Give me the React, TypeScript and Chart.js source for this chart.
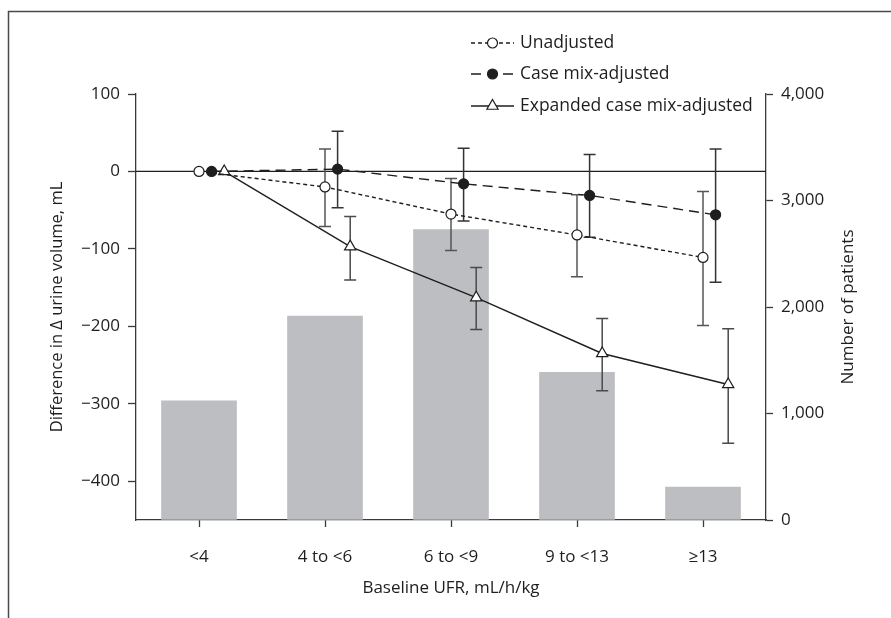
import React, { useEffect, useRef } from 'react';
import { Chart, registerables } from 'chart.js';

Chart.register(...registerables);

// ---------- data ----------
const categories = ['<4', '4 to <6', '6 to <9', '9 to <13', '≥13'];
const patients = [1120, 1914, 2726, 1386, 310];

const unadjusted = [0, -20, -55, -82, -111];
const unadjustedLow = [null, -71, -102, -136, -199];
const unadjustedHigh = [null, 29, -9, -30, -26];

const caseMix = [0, 3, -16, -31, -56];
const caseMixLow = [null, -47, -64, -85, -143];
const caseMixHigh = [null, 52, 30, 22, 29];

const expanded = [0, -97, -163, -235, -275];
const expandedLow = [null, -140, -204, -283, -351];
const expandedHigh = [null, -58, -124, -190, -203];

const leftTicks = [100, 0, -100, -200, -300, -400];
const rightTicks = [0, 1000, 2000, 3000, 4000];

const seriesNames = ['Unadjusted', 'Case mix-adjusted', 'Expanded case mix-adjusted'];

// ---------- styling ----------
const FONT = "'Open Sans', sans-serif";
const INK = '#1e1e1e';
const AXIS = '#3a3a3a';
const BAR = '#bdbec2';
const OFFSETS = [0, 0.1, 0.2];
const DASHES: number[][] = [[4, 3], [10, 6], []];

const series = [
  { name: seriesNames[0], values: unadjusted, low: unadjustedLow, high: unadjustedHigh, style: 'circle', fill: '#ffffff', radius: 5, errColor: '#555' },
  { name: seriesNames[1], values: caseMix, low: caseMixLow, high: caseMixHigh, style: 'circle', fill: INK, radius: 5, errColor: '#333' },
  { name: seriesNames[2], values: expanded, low: expandedLow, high: expandedHigh, style: 'triangle', fill: '#ffffff', radius: 6.5, errColor: '#4a4a4a' },
];

const fmtMinus = (v: number) => (v < 0 ? '\u2212' + Math.abs(v) : String(v));

function drawMarker(ctx: CanvasRenderingContext2D, style: string, x: number, y: number, r: number, fill: string) {
  ctx.save();
  ctx.setLineDash([]);
  ctx.fillStyle = fill;
  ctx.strokeStyle = INK;
  ctx.lineWidth = 1.2;
  ctx.beginPath();
  if (style === 'circle') {
    ctx.arc(x, y, r, 0, Math.PI * 2);
  } else {
    let rad = 0;
    ctx.moveTo(x + Math.sin(rad) * r, y - Math.cos(rad) * r);
    rad += (2 * Math.PI) / 3;
    ctx.lineTo(x + Math.sin(rad) * r, y - Math.cos(rad) * r);
    rad += (2 * Math.PI) / 3;
    ctx.lineTo(x + Math.sin(rad) * r, y - Math.cos(rad) * r);
    ctx.closePath();
  }
  ctx.fill();
  ctx.stroke();
  ctx.restore();
}

const errorBarPlugin = {
  id: 'errorBars',
  afterDatasetDraw(chart: any, args: any) {
    if (args.meta.type !== 'bar') return;
    const ctx: CanvasRenderingContext2D = chart.ctx;
    const y = chart.scales.y;
    const xl = chart.scales.xl;
    const area = chart.chartArea;
    ctx.save();
    // zero reference line
    ctx.strokeStyle = INK;
    ctx.lineWidth = 1.3;
    const y0 = y.getPixelForValue(0);
    ctx.beginPath();
    ctx.moveTo(area.left, y0);
    ctx.lineTo(area.right, y0);
    ctx.stroke();
    // error bars
    series.forEach((s, si) => {
      ctx.strokeStyle = s.errColor;
      ctx.lineWidth = 1.5;
      s.low.forEach((lo, i) => {
        const hi = s.high[i];
        if (lo == null || hi == null) return;
        const px = xl.getPixelForValue(i + 1 + OFFSETS[si]);
        const pl = y.getPixelForValue(lo);
        const ph = y.getPixelForValue(hi);
        ctx.beginPath();
        ctx.moveTo(px, ph);
        ctx.lineTo(px, pl);
        ctx.moveTo(px - 6, ph);
        ctx.lineTo(px + 6, ph);
        ctx.moveTo(px - 6, pl);
        ctx.lineTo(px + 6, pl);
        ctx.stroke();
      });
    });
    ctx.restore();
  },
};

const decorPlugin = {
  id: 'decor',
  afterDraw(chart: any) {
    const ctx: CanvasRenderingContext2D = chart.ctx;
    const area = chart.chartArea;
    const yr = chart.scales.yr;
    ctx.save();
    // frame
    ctx.strokeStyle = '#4a4a4a';
    ctx.lineWidth = 1.5;
    ctx.beginPath();
    ctx.moveTo(8.5, 618);
    ctx.lineTo(8.5, 11.5);
    ctx.lineTo(891, 11.5);
    ctx.stroke();

    // right axis title (reads bottom to top)
    ctx.fillStyle = INK;
    ctx.font = `17px ${FONT}`;
    ctx.textAlign = 'center';
    ctx.textBaseline = 'middle';
    ctx.translate(yr.left + 82, (area.top + area.bottom) / 2);
    ctx.rotate(-Math.PI / 2);
    ctx.fillText('Number of patients', 0, 0);
    ctx.restore();

    // legend
    ctx.save();
    const lx0 = 471;
    const lx1 = 514;
    const rows = [43, 74, 106];
    series.forEach((s, si) => {
      const yy = rows[si];
      ctx.strokeStyle = INK;
      ctx.lineWidth = 1.4;
      ctx.setLineDash(DASHES[si]);
      ctx.beginPath();
      ctx.moveTo(lx0, yy);
      ctx.lineTo(lx1, yy);
      ctx.stroke();
      ctx.setLineDash([]);
      drawMarker(ctx, s.style, (lx0 + lx1) / 2, yy, s.radius, s.fill);
      ctx.fillStyle = INK;
      ctx.font = `17.5px ${FONT}`;
      ctx.textAlign = 'left';
      ctx.textBaseline = 'middle';
      ctx.fillText(s.name, 520, yy);
    });
    ctx.restore();
  },
};

export default function App() {
  const ref = useRef<HTMLCanvasElement | null>(null);

  useEffect(() => {
    if (!ref.current) return;
    Chart.defaults.font.family = FONT;
    Chart.defaults.font.size = 17;
    Chart.defaults.color = INK;

    const lineDatasets = series.map((s, si) => ({
      type: 'line' as const,
      label: s.name,
      data: s.values.map((v, i) => ({ x: i + 1 + OFFSETS[si], y: v })),
      xAxisID: 'xl',
      yAxisID: 'y',
      borderColor: INK,
      borderWidth: 1.4,
      borderDash: DASHES[si],
      pointStyle: s.style,
      pointRadius: s.radius,
      pointBackgroundColor: s.fill,
      pointBorderColor: INK,
      pointBorderWidth: 1.2,
      fill: false,
      tension: 0,
      order: 1,
    }));

    const chart = new Chart(ref.current, {
      type: 'bar',
      data: {
        labels: categories,
        datasets: [
          {
            type: 'bar',
            label: 'Number of patients',
            data: patients,
            xAxisID: 'x',
            yAxisID: 'yr',
            backgroundColor: BAR,
            borderWidth: 0,
            grouped: false,
            barThickness: 75,
            order: 10,
          } as any,
          ...(lineDatasets as any[]),
        ],
      },
      options: {
        responsive: false,
        animation: false,
        devicePixelRatio: 1,
        layout: { padding: { left: 0, right: 0, top: 94, bottom: 0 } },
        plugins: { legend: { display: false }, tooltip: { enabled: false } },
        scales: {
          x: {
            type: 'category',
            position: 'bottom',
            offset: true,
            grid: { drawOnChartArea: false, tickLength: 7, color: AXIS, tickWidth: 1.3, offset: false },
            border: { color: AXIS, width: 1.3 },
            ticks: { padding: 20, color: INK, maxRotation: 0 },
            title: { display: true, text: 'Baseline UFR, mL/h/kg', color: INK, font: { size: 17 }, padding: { top: 0, bottom: 20 } },
            afterFit: (s: any) => { s.height = 98; },
          },
          xl: {
            type: 'linear',
            display: false,
            offset: false,
            min: 0.5,
            max: 5.5,
          },
          y: {
            type: 'linear',
            position: 'left',
            min: -450,
            max: 100,
            grid: { drawOnChartArea: false, tickLength: 8, color: AXIS, tickWidth: 1.3 },
            border: { color: AXIS, width: 1.3 },
            ticks: { padding: 8, color: INK, callback: (v: any) => fmtMinus(Number(v)) },
            afterBuildTicks: (s: any) => { s.ticks = leftTicks.map((v) => ({ value: v })); },
            title: { display: true, text: 'Difference in Δ urine volume, mL', color: INK, font: { size: 16.5 }, padding: { top: 47, bottom: 0 } },
            afterFit: (s: any) => { s.width = 136; },
          },
          yr: {
            type: 'linear',
            position: 'right',
            min: 0,
            max: 4000,
            grid: { drawOnChartArea: false, tickLength: 7, color: AXIS, tickWidth: 1.3 },
            border: { color: AXIS, width: 1.3 },
            ticks: { padding: 8, color: INK, callback: (v: any) => Number(v).toLocaleString('en-US') },
            afterBuildTicks: (s: any) => { s.ticks = rightTicks.map((v) => ({ value: v })); },
            afterFit: (s: any) => { s.width = 125; },
          },
        },
      } as any,
      plugins: [errorBarPlugin, decorPlugin],
    });

    return () => chart.destroy();
  }, []);

  return (
    <div style={{ position: 'fixed', left: 0, top: 0, width: 891, height: 618, background: '#fff' }}>
      <canvas ref={ref} width={891} height={618} style={{ display: 'block', width: 891, height: 618 }} />
    </div>
  );
}
